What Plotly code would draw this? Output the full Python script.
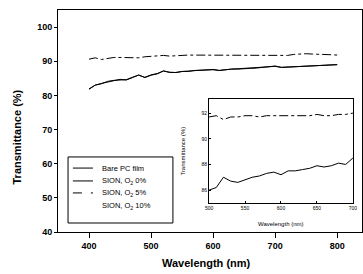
import plotly.graph_objects as go

# Main plot data
wl_main = [400, 410, 420, 430, 440, 450, 460, 470, 480, 490, 500, 510, 520, 530, 540, 550, 560,
           570, 580, 590, 600, 610, 620, 630, 640, 650, 660, 670, 680, 690, 700, 710, 720, 730,
           740, 750, 760, 770, 780, 790, 800]
bare_pc = [81.8, 83.0, 83.5, 84.0, 84.3, 84.7, 84.5, 85.2, 86.0, 85.2, 85.9, 86.3, 87.2, 86.7, 86.7,
           87.0, 87.1, 87.2, 87.4, 87.4, 87.6, 87.3, 87.6, 87.7, 87.7, 87.9, 87.9, 88.0, 88.2, 88.3,
           88.6, 88.2, 88.3, 88.4, 88.5, 88.5, 88.6, 88.8, 88.9, 88.9, 89.0]
sion_0 = [81.9, 83.0, 83.4, 84.1, 84.4, 84.6, 84.6, 85.3, 85.9, 85.3, 86.0, 86.4, 87.1, 86.8, 86.7,
          87.0, 87.0, 87.3, 87.4, 87.5, 87.5, 87.3, 87.6, 87.7, 87.8, 87.9, 87.9, 88.0, 88.2, 88.3,
          88.5, 88.2, 88.3, 88.4, 88.5, 88.6, 88.6, 88.8, 88.9, 88.9, 89.0]
sion_5 = [90.6, 91.0, 90.5, 90.9, 91.1, 91.1, 91.0, 91.0, 91.0, 91.3, 91.4, 91.5, 91.7, 91.5, 91.5,
          91.7, 91.8, 91.8, 91.7, 91.8, 91.9, 91.9, 91.8, 91.9, 91.9, 91.9, 91.8, 91.9, 91.9, 91.8,
          91.9, 91.8, 91.7, 92.0, 92.2, 92.2, 92.1, 92.1, 92.0, 91.9, 91.8]
sion_10 = [90.7, 91.1, 90.6, 91.0, 91.2, 91.2, 91.1, 91.1, 91.1, 91.4, 91.5, 91.6, 91.8, 91.6, 91.6,
           91.8, 91.9, 91.9, 91.8, 91.9, 92.0, 92.0, 91.9, 92.0, 92.0, 92.0, 91.9, 92.0, 92.0, 91.9,
           92.0, 91.9, 91.8, 92.1, 92.3, 92.3, 92.2, 92.2, 92.1, 92.0, 91.9]

# Inset data
wl_inset = [500, 510, 520, 530, 540, 550, 560, 570, 580, 590, 600, 610, 620, 630, 640, 650, 660,
            670, 680, 690, 700]
inset_solid = [86.0, 86.2, 87.0, 86.7, 86.6, 86.8, 87.0, 87.1, 87.3, 87.4, 87.2, 87.5, 87.5, 87.6,
               87.7, 87.9, 87.8, 87.9, 88.1, 88.0, 88.5]
inset_dash = [91.7, 91.8, 91.5, 91.7, 91.7, 91.8, 91.8, 91.7, 91.8, 91.8, 91.8, 91.8, 91.8, 91.8,
              91.8, 91.9, 91.8, 91.8, 91.9, 91.9, 92.0]

main_xticks = [400, 500, 600, 700, 800]
main_yticks = [40, 50, 60, 70, 80, 90, 100]
inset_xticks = [500, 550, 600, 650, 700]
inset_yticks = [86, 88, 90, 92]

legend_names = ["Bare PC film", "SION, O<sub>2</sub> 0%", "SION, O<sub>2</sub> 5%",
                "SION, O<sub>2</sub> 10%"]

fig = go.Figure()
fig.add_trace(go.Scatter(x=wl_main, y=bare_pc, mode="lines", name=legend_names[0], showlegend=False,
                         line=dict(color="black", width=1)))
fig.add_trace(go.Scatter(x=wl_main, y=sion_0, mode="lines", name=legend_names[1], showlegend=False,
                         line=dict(color="black", width=1)))
fig.add_trace(go.Scatter(x=wl_main, y=sion_5, mode="lines", name=legend_names[2], showlegend=False,
                         line=dict(color="black", width=1, dash="dashdot")))
fig.add_trace(go.Scatter(x=wl_main, y=sion_10, mode="lines", name=legend_names[3], showlegend=False,
                         line=dict(color="rgba(255,255,255,0)", width=1)))

fig.add_trace(go.Scatter(x=wl_inset, y=inset_solid, mode="lines", showlegend=False,
                         line=dict(color="black", width=1), xaxis="x2", yaxis="y2"))
fig.add_trace(go.Scatter(x=wl_inset, y=inset_dash, mode="lines", showlegend=False,
                         line=dict(color="black", width=1, dash="dashdot"), xaxis="x2", yaxis="y2"))

# Manual legend (box, line samples, labels) in paper coordinates
shapes = [dict(type="rect", xref="paper", yref="paper", x0=0.033, x1=0.378, y0=0.0405, y1=0.338,
               line=dict(color="black", width=1), fillcolor="white", layer="above")]
row_y = [0.288, 0.230, 0.176, 0.117]
sample_dash = ["solid", "solid", "dash", None]
annotations = []
for name, yy, dsh in zip(legend_names, row_y, sample_dash):
    if dsh is not None:
        shapes.append(dict(type="line", xref="paper", yref="paper", x0=0.049, x1=0.115, y0=yy, y1=yy,
                           line=dict(color="black", width=1, dash=dsh), layer="above"))
    annotations.append(dict(text=name, xref="paper", yref="paper", x=0.138, y=yy, xanchor="left",
                            yanchor="middle", showarrow=False,
                            font=dict(size=7.5, family="Liberation Sans")))

annotations += [
    dict(text="<b>Wavelength (nm)</b>", xref="paper", yref="paper", x=0.49, y=-0.14,
         xanchor="center", yanchor="middle", showarrow=False,
         font=dict(size=11, family="Liberation Sans")),
    dict(text="<b>Transmittance (%)</b>", xref="paper", yref="paper", x=-0.135, y=0.43,
         xanchor="center", yanchor="middle", showarrow=False, textangle=-90,
         font=dict(size=11, family="Liberation Sans")),
    dict(text="Wavelength (nm)", xref="paper", yref="paper", x=0.733, y=0.035,
         xanchor="center", yanchor="middle", showarrow=False, font=dict(size=6)),
    dict(text="Transmittance (%)", xref="paper", yref="paper", x=0.41, y=0.365,
         xanchor="center", yanchor="middle", showarrow=False, textangle=-90,
         font=dict(size=6)),
]

tickfont = dict(family="Liberation Sans", size=9, color="black")
common = dict(showgrid=False, zeroline=False, showline=True, linecolor="black", linewidth=1,
              mirror=True, tickcolor="black", automargin=False)
fig.update_layout(
    width=363, height=274, autosize=False,
    margin=dict(l=58, r=1, t=10, b=42, autoexpand=False),
    paper_bgcolor="white", plot_bgcolor="white",
    font=dict(family="Liberation Sans", color="black"),
    showlegend=False,
    xaxis=dict(range=[350, 840], tickvals=main_xticks, ticktext=[f"<b>{v}</b>" for v in main_xticks],
               tickfont=tickfont, ticks="outside", ticklen=5, **common),
    yaxis=dict(range=[40, 105], tickvals=main_yticks, ticktext=[f"<b>{v}</b>" for v in main_yticks],
               tickfont=tickfont, ticks="outside", ticklen=3, **common),
    xaxis2=dict(domain=[0.497, 0.970], anchor="y2", range=[500, 700], tickvals=inset_xticks,
                tickfont=dict(size=5, family="Liberation Sans"), ticks="inside", ticklen=2, **common),
    yaxis2=dict(domain=[0.131, 0.599], anchor="x2", range=[85, 93.1], tickvals=inset_yticks,
                tickfont=dict(size=5, family="Liberation Sans"), ticks="inside", ticklen=2, **common),
    shapes=shapes,
    annotations=annotations,
)

fig.write_html("out.html",
               post_script=("document.body.style.margin='0';document.body.style.overflow='hidden';"
                            "var s=document.createElement('style');"
                            "s.textContent='.modebar-container{display:none !important;}';"
                            "document.head.appendChild(s);"))
